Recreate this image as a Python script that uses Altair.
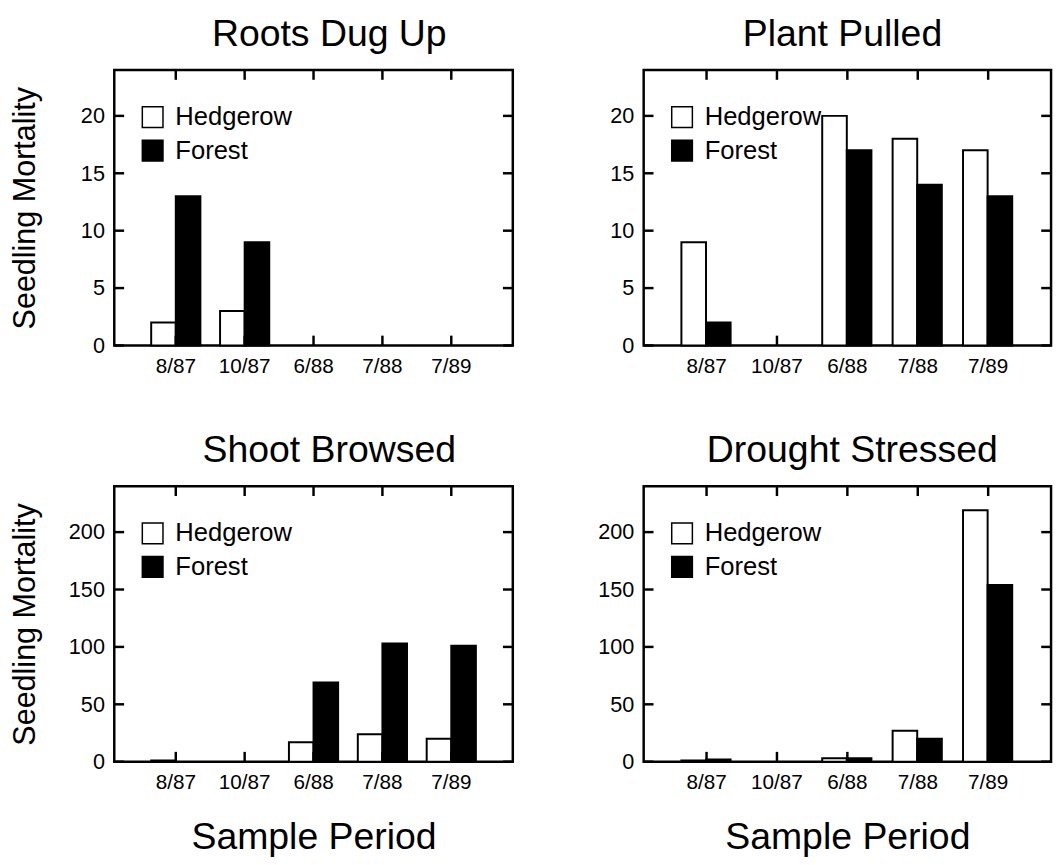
import altair as alt
import pandas as pd

periods = ["8/87", "10/87", "6/88", "7/88", "7/89"]
sites = ["Hedgerow", "Forest"]

roots_hedgerow = [2, 3, 0, 0, 0]
roots_forest = [13, 9, 0, 0, 0]
pulled_hedgerow = [9, 0, 20, 18, 17]
pulled_forest = [2, 0, 17, 14, 13]
browsed_hedgerow = [1, 0, 17, 24, 20]
browsed_forest = [0, 0, 69, 103, 101]
drought_hedgerow = [1, 0, 3, 27, 219]
drought_forest = [2, 0, 3, 20, 154]

ticks_small = [0, 5, 10, 15, 20]
ticks_large = [0, 50, 100, 150, 200]

FONT = "Liberation Sans"
TICK = 10


def panel(title, hedge, forest, yticks, ymax, width, height, left, bottom, dx):
    rows = []
    for p, h, f in zip(periods, hedge, forest):
        rows.append({"period": p, "site": "Hedgerow", "value": h})
        rows.append({"period": p, "site": "Forest", "value": f})
    df = pd.DataFrame(rows)
    xdf = pd.DataFrame({"period": periods})
    ydf = pd.DataFrame({"value": yticks})

    xaxis = alt.Axis(
        title="Sample Period" if bottom else None,
        ticks=False, domain=False, grid=False, labelAngle=0,
        labelFont=FONT, labelFontSize=21, labelColor="black", labelPadding=10,
        titleFont=FONT, titleFontSize=38, titleFontWeight="normal",
        titleColor="black", titlePadding=27,
    )
    yaxis = alt.Axis(
        title="Seedling Mortality" if left else None,
        values=yticks, ticks=False, tickSize=0, domain=False, grid=False,
        labelFont=FONT, labelFontSize=22, labelColor="black", labelPadding=10,
        titleFont=FONT, titleFontSize=31, titleFontWeight="normal",
        titleColor="black", titlePadding=28, minExtent=46, maxExtent=46,
    )
    xscale = alt.Scale(domain=periods, paddingInner=0.2857, paddingOuter=0.536)
    yscale = alt.Scale(domain=[0, ymax], nice=False, zero=True)

    bars = alt.Chart(df).transform_filter("datum.value > 0").mark_bar(
        stroke="black", strokeWidth=2
    ).encode(
        x=alt.X("period:N", sort=periods, scale=xscale, axis=xaxis),
        xOffset=alt.XOffset("site:N", sort=sites,
                            scale=alt.Scale(domain=sites, paddingInner=0, paddingOuter=0)),
        y=alt.Y("value:Q", scale=yscale, axis=yaxis),
        color=alt.Color(
            "site:N", sort=sites,
            scale=alt.Scale(domain=sites, range=["white", "black"]),
            legend=alt.Legend(
                title=None, orient="none", legendX=26, legendY=35, padding=0,
                symbolType="square", symbolSize=441, symbolStrokeColor="black",
                symbolStrokeWidth=1.5, symbolOpacity=1,
                labelFont=FONT, labelFontSize=26, labelColor="black",
                labelOffset=10, rowPadding=6,
            ),
        ),
    )
    top_ticks = alt.Chart(xdf).mark_rule(color="black", strokeWidth=2.5).encode(
        x=alt.X("period:N", sort=periods, scale=xscale, axis=xaxis),
        y=alt.value(0), y2=alt.value(TICK),
    )
    bot_ticks = alt.Chart(xdf).mark_rule(color="black", strokeWidth=2.5).encode(
        x=alt.X("period:N", sort=periods, scale=xscale, axis=xaxis),
        y=alt.value(height - TICK), y2=alt.value(height),
    )
    left_ticks = alt.Chart(ydf).mark_rule(color="black", strokeWidth=2.5).encode(
        y=alt.Y("value:Q", scale=yscale, axis=yaxis),
        x=alt.value(0), x2=alt.value(TICK),
    )
    right_ticks = alt.Chart(ydf).mark_rule(color="black", strokeWidth=2.5).encode(
        y=alt.Y("value:Q", scale=yscale, axis=yaxis),
        x=alt.value(width - TICK), x2=alt.value(width),
    )
    return alt.layer(bars, top_ticks, bot_ticks, left_ticks, right_ticks).properties(
        width=width, height=height,
        title=alt.TitleParams(title, font=FONT, fontSize=38, fontWeight="normal",
                              color="black", offset=15, dx=dx),
    )


p1 = panel("Roots Dug Up", roots_hedgerow, roots_forest, ticks_small, 24, 405, 280, True, False, 16)
p2 = panel("Plant Pulled", pulled_hedgerow, pulled_forest, ticks_small, 24, 414, 280, False, False, -5)
p3 = panel("Shoot Browsed", browsed_hedgerow, browsed_forest, ticks_large, 240, 405, 280, True, True, 16)
p4 = panel("Drought Stressed", drought_hedgerow, drought_forest, ticks_large, 240, 414, 280, False, True, 5)

row1 = alt.hconcat(p1, p2, spacing=82).resolve_scale(color="independent", x="independent", y="independent").resolve_legend(color="independent")
row2 = alt.hconcat(p3, p4, spacing=82).resolve_scale(color="independent", x="independent", y="independent").resolve_legend(color="independent")

chart = alt.vconcat(row1, row2, spacing=54).resolve_scale(
    color="independent", x="independent", y="independent"
).resolve_legend(color="independent").properties(
    padding=0,
    background="white",
).configure_view(
    stroke="black", strokeWidth=2.5
)

chart.save("out.html", embed_options={"renderer": "svg", "actions": False})
